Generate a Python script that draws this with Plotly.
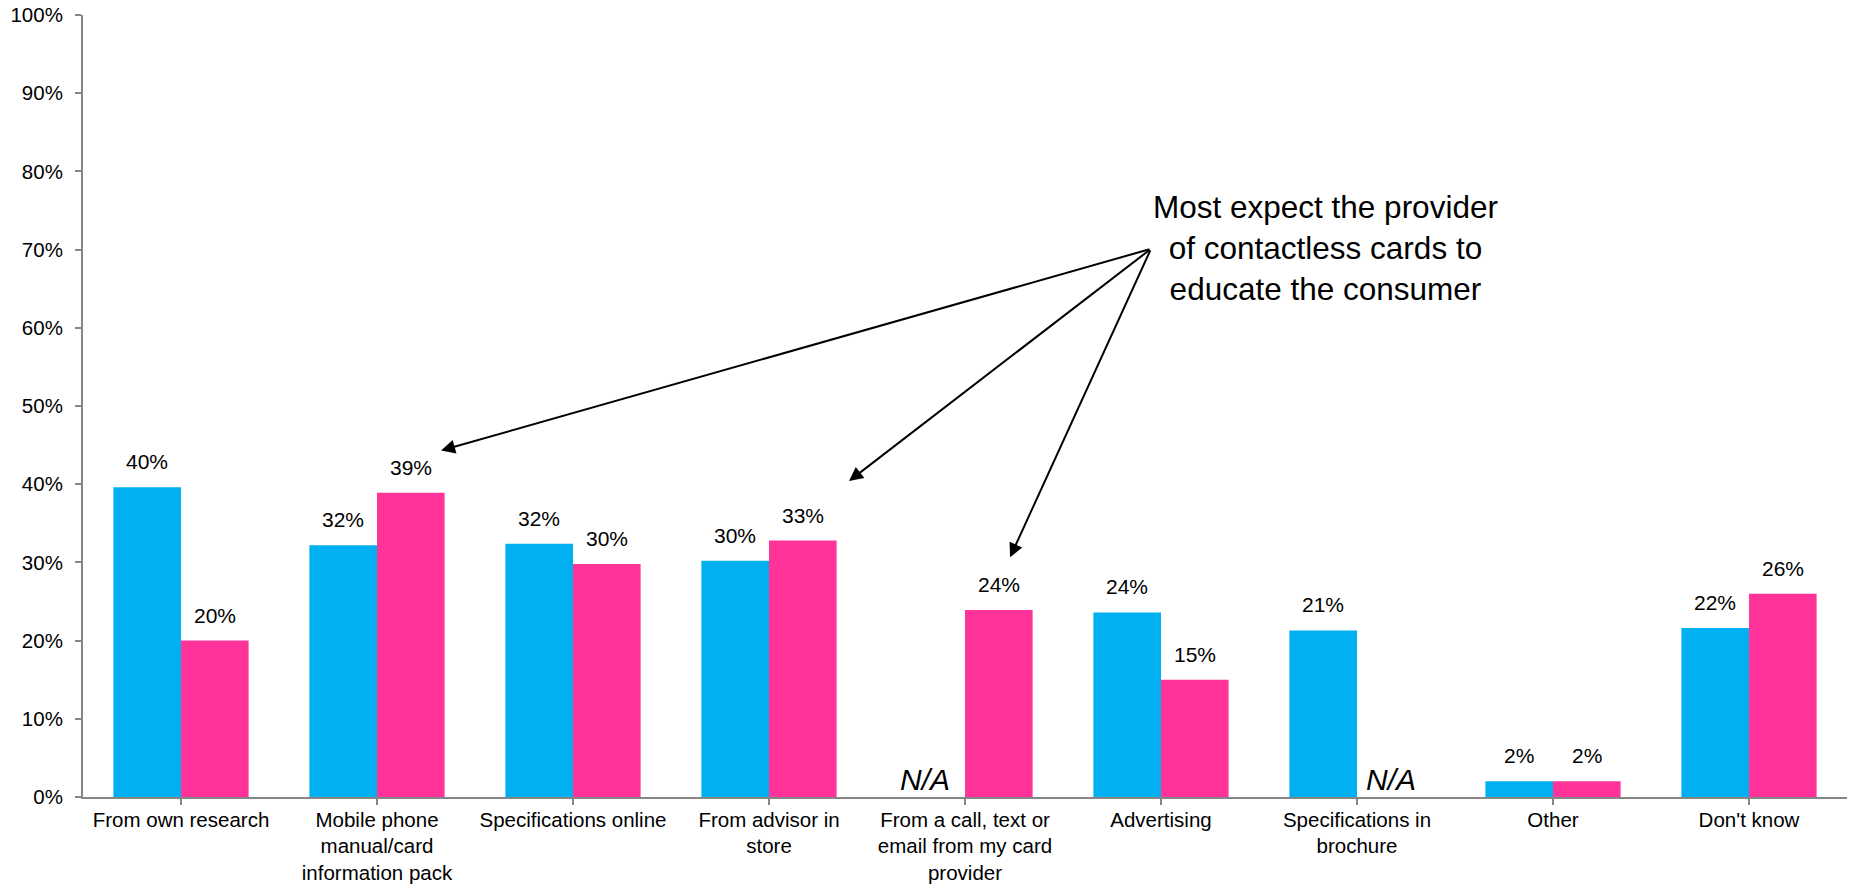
import plotly.graph_objects as go

# Where people expect to learn about contactless payments
categories = [
    "From own research",
    "Mobile phone<br>manual/card<br>information pack",
    "Specifications online",
    "From advisor in<br>store",
    "From a call, text or<br>email from my card<br>provider",
    "Advertising",
    "Specifications in<br>brochure",
    "Other",
    "Don't know",
]
# None = question not asked for that group (shown as N/A)
series_blue = [39.6, 32.2, 32.4, 30.2, None, 23.6, 21.3, 2.0, 21.6]
series_pink = [20.0, 38.9, 29.8, 32.8, 23.9, 15.0, None, 2.0, 26.0]
y_ticks = list(range(0, 101, 10))
y_tick_labels = [f"{v}%" for v in y_ticks]

BLUE = "#00B0F0"
PINK = "#FF3399"
AXIS = "#868686"
FONT = "Liberation Sans, Arial, sans-serif"

bar_gap = 0.31
slot = (1 - bar_gap) / 2  # width of one bar in category units
x_idx = list(range(len(categories)))

fig = go.Figure()
fig.add_trace(go.Bar(x=x_idx, y=series_blue, marker=dict(color=BLUE, line=dict(width=0)), name="Blue"))
fig.add_trace(go.Bar(x=x_idx, y=series_pink, marker=dict(color=PINK, line=dict(width=0)), name="Pink"))

annotations = []
# value labels above each bar, and N/A where a value is missing
for series, side in ((series_blue, -1), (series_pink, 1)):
    for i, v in enumerate(series):
        xpos = i + side * slot / 2
        if v is None:
            annotations.append(dict(
                x=xpos, y=0, xref="x", yref="y", text="<i>N/A</i>", showarrow=False,
                yanchor="bottom", xanchor="center", yshift=-1, xshift=-6 if side < 0 else 0,
                font=dict(size=30, color="black", family=FONT)))
        else:
            annotations.append(dict(
                x=xpos, y=v, xref="x", yref="y", text=f"{round(v)}%", showarrow=False,
                yanchor="bottom", xanchor="center", yshift=12,
                font=dict(size=21, color="black", family=FONT)))

# callout text and arrows
callout_tail = (4.949, 70.1)
annotations.append(dict(
    x=5.837, y=70.2, xref="x", yref="y",
    text="Most expect the provider<br>of contactless cards to<br>educate the consumer",
    showarrow=False, align="center", xanchor="center", yanchor="middle",
    font=dict(size=31.5, color="black", family=FONT)))
for tip in ((1.327, 44.3), (3.408, 40.4), (4.230, 30.65)):
    annotations.append(dict(
        x=tip[0], y=tip[1], xref="x", yref="y",
        ax=callout_tail[0], ay=callout_tail[1], axref="x", ayref="y",
        text="", showarrow=True, arrowhead=2, arrowsize=1.4, arrowwidth=2,
        arrowcolor="black", standoff=0, startstandoff=0))

fig.update_layout(
    width=1856, height=884,
    margin=dict(l=83, r=9, t=15, b=87),
    template="none",
    paper_bgcolor="white", plot_bgcolor="white",
    barmode="group", bargap=bar_gap, bargroupgap=0,
    showlegend=False,
    font=dict(family=FONT, color="black"),
    annotations=annotations,
)
fig.update_xaxes(
    tickmode="array", tickvals=x_idx, ticktext=categories,
    range=[-0.5, len(categories) - 0.5],
    showline=True, linecolor=AXIS, linewidth=2,
    ticks="outside", tickson="boundaries", ticklen=6, tickcolor=AXIS, tickwidth=2,
    tickfont=dict(size=20.5, family=FONT, color="black"),
    ticklabelstandoff=-3,
    showgrid=False, zeroline=False, automargin=False,
)
fig.update_yaxes(
    range=[0, 100], tickmode="array", tickvals=y_ticks, ticktext=y_tick_labels,
    showline=True, linecolor=AXIS, linewidth=2,
    ticks="outside", ticklen=6, tickcolor=AXIS, tickwidth=2,
    tickfont=dict(size=20.5, family=FONT, color="black"),
    ticklabelstandoff=8,
    showgrid=False, zeroline=False, automargin=False,
)

fig.write_html("out.html")
